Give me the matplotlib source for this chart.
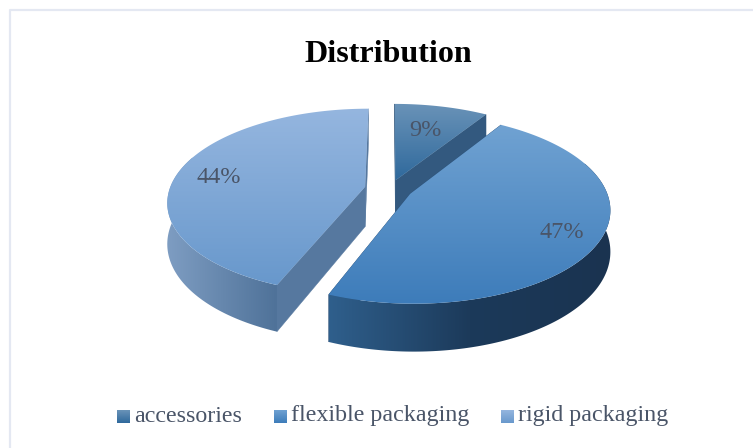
import numpy as np
import matplotlib
matplotlib.use("Agg")
import matplotlib.pyplot as plt
from matplotlib.patches import Polygon
from matplotlib.colors import LinearSegmentedColormap

categories = ["accessories", "flexible packaging", "rigid packaging"]
values = [9, 47, 44]
labels = ["9%", "47%", "44%"]
chart_title = "Distribution"

top_colors = [("#6A93B8", "#2F699C"), ("#70A2D2", "#3D7CBA"), ("#95B6DF", "#6898CC")]
side_colors = [("#2A5078", "#3B5E82"), ("#2F5F8C", "#1C3A5A", "#1A3350"), ("#7E9DC2", "#4F7299")]
cut_colors = ["#33597F", "#2A5078", "#56789F"]
explode = [0.10, 0.115, 0.13]

CX, CY, RX, RY, K, H = 390.0, 189.0, 195.5, 91.0, 0.157, 40.0
TEXT = "#4A5568"
SERIF = "Liberation Serif"

fig = plt.figure(figsize=(7.53, 4.48), dpi=100)
ax = fig.add_axes([0, 0, 1, 1])
ax.axis("off")


def project(X, Y, z=0.0):
    w = 1 + K * Y
    return CX + RX * X / w, CY - RY * Y / w + z * H / w


def gradient_patch(poly, colors, zorder, horizontal=False):
    cmap = LinearSegmentedColormap.from_list("g", list(colors))
    g = np.linspace(0, 1, 256)
    g = g.reshape(1, -1) if horizontal else g.reshape(-1, 1)
    x0, x1, y0, y1 = poly[:, 0].min(), poly[:, 0].max(), poly[:, 1].min(), poly[:, 1].max()
    im = ax.imshow(g, cmap=cmap, extent=(x0, x1, y1, y0), aspect="auto", zorder=zorder,
                   interpolation="bilinear")
    p = Polygon(poly, closed=True, facecolor="none", edgecolor="none")
    ax.add_patch(p)
    im.set_clip_path(p)


def draw_slice(i, start, end, z):
    mid = (start + end) / 2
    ox, oy = explode[i] * np.sin(mid), explode[i] * np.cos(mid)
    th = np.linspace(start, end, 200)
    X = ox + np.sin(th)
    Y = oy + np.cos(th)
    # cut faces
    for a in (start, end):
        pts = [project(ox, oy), project(ox + np.sin(a), oy + np.cos(a)),
               project(ox + np.sin(a), oy + np.cos(a), 1), project(ox, oy, 1)]
        ax.add_patch(Polygon(pts, closed=True, facecolor=cut_colors[i], edgecolor=cut_colors[i],
                             lw=0.3, zorder=z))
    # outer wall, only where it faces the viewer
    keep = np.cos(th) < 0.35
    if keep.sum() > 1:
        xs, ys = project(X[keep], Y[keep])
        xb, yb = project(X[keep], Y[keep], 1)
        wall = np.column_stack([np.r_[xs, xb[::-1]], np.r_[ys, yb[::-1]]])
        gradient_patch(wall, side_colors[i], z + 0.1, horizontal=True)
    # top face
    poly = np.column_stack(project(np.r_[ox, X], np.r_[oy, Y]))
    gradient_patch(poly, top_colors[i], z + 0.2)


# frame of the chart area, cut by the picture on the right and at the bottom
ax.plot([753, 10, 10], [10.5, 10.5, 448], color="#E4E8F2", lw=1.6, zorder=1, clip_on=False)

fracs = np.array(values, dtype=float) / sum(values)
edges = np.r_[0, np.cumsum(fracs)] * 2 * np.pi
for rank, i in enumerate([2, 0, 1]):
    draw_slice(i, edges[i], edges[i + 1], 2 + rank)

# data labels
label_pos = [(425, 136), (562, 238), (219, 183)]
for lab, (x, y) in zip(labels, label_pos):
    ax.text(x, y, lab, family=SERIF, fontsize=17.5, color=TEXT, ha="center", va="baseline", zorder=10)

ax.text(388, 62, chart_title, family=SERIF, fontsize=23, fontweight="bold", color="black",
        ha="center", va="baseline", zorder=10)

# legend
leg_x = [117, 274, 501]
for name, x, tc in zip(categories, leg_x, top_colors):
    gradient_patch(np.array([(x, 410), (x + 13, 410), (x + 13, 423), (x, 423)], dtype=float), tc, 10)
    ax.text(x + 17.5, 421.5, name, family=SERIF, fontsize=17.3, color=TEXT, ha="left", va="baseline", zorder=10)

ax.set_xlim(0, 753)
ax.set_ylim(448, 0)
fig.savefig("out.png", dpi=100, facecolor="white")
